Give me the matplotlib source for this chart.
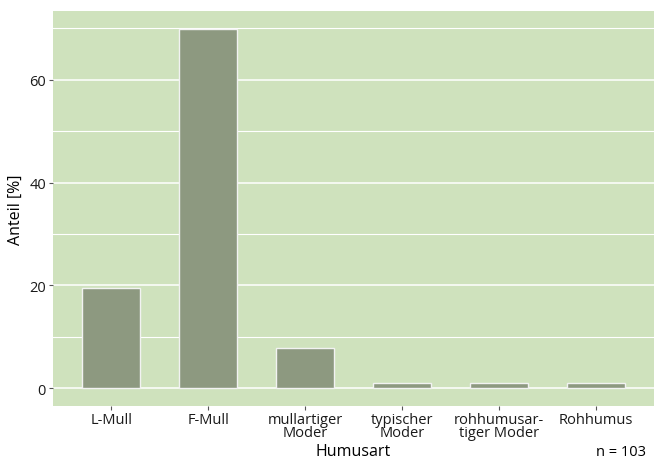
import numpy as np
import matplotlib.pyplot as plt

# Anteile der Humusarten (n = 103)
kategorien = ['L-Mull', 'F-Mull', 'mullartiger\nModer', 'typischer\nModer',
              'rohhumusar-\ntiger Moder', 'Rohhumus']
anzahl = [20, 72, 8, 1, 1, 1]
n_gesamt = 103
anteil = [a / n_gesamt * 100 for a in anzahl]

plt.rcParams['font.family'] = ['Open Sans', 'DejaVu Sans']

fig = plt.figure(figsize=(6.56, 4.64), dpi=100)
ax = fig.add_axes([53 / 656, 57 / 464, 601 / 656, 395 / 464])

x = np.arange(1, len(kategorien) + 1)
ax.set_facecolor('#cfe2bd')
ax.bar(x, anteil, width=0.6, color='#8d9980', edgecolor='#f2f2f2', linewidth=1, zorder=3)

ax.set_xlim(0.4, len(kategorien) + 0.6)
ymax = max(anteil)
ax.set_ylim(-0.05 * ymax, ymax * 1.05)

ax.set_yticks([0, 20, 40, 60])
ax.set_yticks([10, 30, 50, 70], minor=True)
ax.grid(which='major', axis='y', color='white', linewidth=1.1, zorder=1)
ax.grid(which='minor', axis='y', color='white', linewidth=0.8, zorder=1)
ax.tick_params(axis='y', which='minor', length=0)
ax.tick_params(axis='both', which='major', length=3, color='#555555', width=0.8,
               labelsize=10.5, labelcolor='#1a1a1a', pad=2)
ax.tick_params(axis='x', pad=1)

ax.set_xticks(x)
ax.set_xticklabels(kategorien, linespacing=0.88)
for s in ax.spines.values():
    s.set_visible(False)

ax.set_xlabel('Humusart', fontsize=11.5, labelpad=2)
ax.set_ylabel('Anteil [%]', fontsize=11.5, labelpad=4)
fig.text(646 / 656, 11 / 464, f'n = {n_gesamt}', ha='right', va='center', fontsize=10.5)

fig.savefig('out.png', dpi=100)
